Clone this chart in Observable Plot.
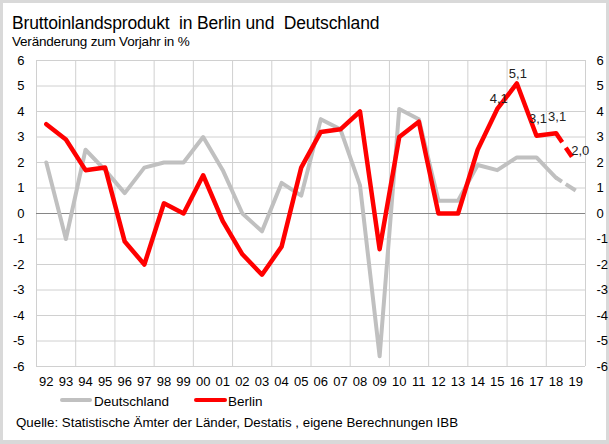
<!DOCTYPE html>
<html><head><meta charset="utf-8">
<script src="https://cdn.jsdelivr.net/npm/d3@7"></script>
<script src="https://cdn.jsdelivr.net/npm/@observablehq/plot@0.6"></script>
<style>
body{margin:0;background:#fff;}
#c{position:relative;width:609px;height:444px;overflow:hidden;font-family:"Liberation Sans",Arial,sans-serif;color:#000;background:#fff;}
#c svg{position:absolute;left:0;top:0;}
.t{position:absolute;white-space:nowrap;line-height:1;}
.lg{position:absolute;height:4px;border-radius:2px;}
#frame{position:absolute;left:0;top:0;width:609px;height:444px;box-sizing:border-box;border:3px solid #d9d9d9;border-bottom-width:4px;}
</style></head><body>
<div id="c">
  <div id="frame"></div>
  <div class="t" style="left:12px;top:14.5px;font-size:17.5px;letter-spacing:-0.15px;">Bruttoinlandsprodukt&nbsp; in Berlin und&nbsp; Deutschland</div>
  <div class="t" style="left:12px;top:34.6px;font-size:13.5px;letter-spacing:-0.2px;">Veränderung zum Vorjahr in %</div>
  <div class="lg" style="left:60px;top:398px;width:32px;background:#c0c0c0;"></div>
  <div class="t" style="left:94px;top:394.6px;font-size:13.5px;">Deutschland</div>
  <div class="lg" style="left:194px;top:398px;width:33px;background:#ff0000;"></div>
  <div class="t" style="left:228px;top:394.6px;font-size:13.5px;">Berlin</div>
  <div class="t" style="left:16px;top:415.7px;font-size:13.3px;">Quelle: Statistische Ämter der Länder, Destatis , eigene Berechnungen IBB</div>
</div>
<script>
const years = ["92","93","94","95","96","97","98","99","00","01","02","03","04","05","06","07","08","09","10","11","12","13","14","15","16","17","18","19"];
const deutschland = [2.0,-1.0,2.5,1.7,0.8,1.8,2.0,2.0,3.0,1.7,0.0,-0.7,1.2,0.7,3.7,3.3,1.1,-5.6,4.1,3.7,0.5,0.5,1.9,1.7,2.2,2.2,1.4,0.9];
const berlin = [3.5,2.9,1.7,1.8,-1.1,-2.0,0.4,0.0,1.5,-0.3,-1.6,-2.4,-1.3,1.8,3.2,3.3,4.0,-1.4,3.0,3.6,0.0,0.0,2.5,4.1,5.1,3.05,3.15,2.0];
const labelYears = ["15","16","17","18","19"];
const labelTexts = ["4,1","5,1","3,1","3,1","2,0"];
const yTicks = [-6,-5,-4,-3,-2,-1,0,1,2,3,4,5,6];

// styling offsets for the data labels (not data)
const labelDx = [1.5, 1, 1.5, 1, 4.5];
const labelDy = [-10.5, -10, -17, -16, -12];

const de = deutschland.map((v, i) => ({i, v}));
const be = berlin.map((v, i) => ({i, v}));
const last = years.length - 1;
const deSolid = de.slice(0, last), deDash = de.slice(last - 1);
const beSolid = be.slice(0, last), beDash = be.slice(last - 1);

const gridX = d3.range(-0.5, years.length + 0.5, 2);

const labelMarks = labelYears.map((yr, k) => {
  const i = years.indexOf(yr);
  return Plot.text([{i, v: berlin[i], t: labelTexts[k]}], {
    x: "i", y: "v", text: "t", dx: labelDx[k], dy: labelDy[k],
    fill: "#222", fontSize: 13
  });
});

const chart = Plot.plot({
  width: 609, height: 444,
  marginLeft: 36, marginRight: 24, marginTop: 60, marginBottom: 78,
  style: {fontFamily: '"Liberation Sans", Arial, sans-serif', fontSize: "13px", color: "#000", background: "transparent", overflow: "visible"},
  x: {type: "linear", domain: [-0.5, years.length - 0.5], label: null},
  y: {domain: [-6, 6], label: null},
  marks: [
    Plot.ruleY(yTicks, {stroke: "#d0d0d0", strokeWidth: 1}),
    Plot.ruleX(gridX, {stroke: "#d0d0d0", strokeWidth: 1}),
    Plot.ruleY([0], {stroke: "#868686", strokeWidth: 1}),
    Plot.axisX({ticks: years.map((_, i) => i), tickFormat: i => years[i], tickSize: 0, tickPadding: 10, fontSize: 13, fill: "#000", label: null}),
    Plot.axisY({anchor: "left", ticks: yTicks, tickFormat: d => String(d), tickSize: 0, tickPadding: 12, fontSize: 13, fill: "#000", label: null}),
    Plot.axisY({anchor: "right", ticks: yTicks, tickFormat: d => String(d), tickSize: 0, tickPadding: 11, fontSize: 13, fill: "#000", label: null}),
    Plot.line(deSolid, {x: "i", y: "v", stroke: "#c0c0c0", strokeWidth: 4, strokeLinejoin: "round", strokeLinecap: "round"}),
    Plot.line(deDash, {x: "i", y: "v", stroke: "#c0c0c0", strokeWidth: 4, strokeDasharray: "7,4.5,20", strokeLinecap: "butt"}),
    Plot.line(beSolid, {x: "i", y: "v", stroke: "#ff0000", strokeWidth: 4.5, strokeLinejoin: "round", strokeLinecap: "round"}),
    Plot.line(beDash, {x: "i", y: "v", stroke: "#ff0000", strokeWidth: 4.5, strokeDasharray: "11,6.5,11,20", strokeLinecap: "butt"}),
    ...labelMarks
  ]
});
document.getElementById("c").appendChild(chart);
</script>
</body></html>
